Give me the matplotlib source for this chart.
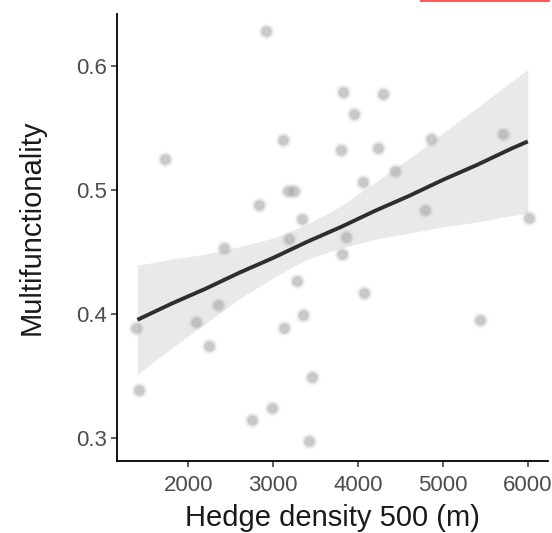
import matplotlib
matplotlib.use("Agg")
import matplotlib.pyplot as plt
from matplotlib.patches import Rectangle

plt.rcParams["font.family"] = ["Liberation Sans", "DejaVu Sans"]

# observed sites
hedge = [2913, 1725, 3821, 4292, 3954, 3113, 3804, 4241, 4862, 5703,
         3170, 3240, 2834, 4437, 4064, 3337, 4791, 6018, 3860, 2421,
         3187, 3813, 3278, 4076, 2354, 2087, 3349, 3128, 1383, 2248,
         5440, 3462, 1422, 2987, 2748, 3427]
multi = [0.628, 0.525, 0.579, 0.577, 0.561, 0.540, 0.532, 0.534, 0.541, 0.545,
         0.499, 0.499, 0.488, 0.515, 0.506, 0.476, 0.484, 0.477, 0.462, 0.453,
         0.460, 0.448, 0.426, 0.417, 0.407, 0.393, 0.399, 0.388, 0.388, 0.374,
         0.395, 0.349, 0.338, 0.324, 0.314, 0.297]

# fitted line and its confidence band
fit_x = [1400, 1800, 2200, 2600, 3000, 3400, 3800, 4200, 4600, 5000, 5400, 5800, 6000]
fit_y = [0.395, 0.408, 0.420, 0.433, 0.445, 0.458, 0.470, 0.483, 0.495, 0.508, 0.520, 0.533, 0.539]
ci_lo = [0.351, 0.372, 0.392, 0.412, 0.429, 0.444, 0.453, 0.460, 0.465, 0.470, 0.474, 0.479, 0.481]
ci_hi = [0.439, 0.444, 0.448, 0.454, 0.461, 0.472, 0.487, 0.506, 0.525, 0.546, 0.566, 0.587, 0.597]

xticks = [2000, 3000, 4000, 5000, 6000]
yticks = [0.3, 0.4, 0.5, 0.6]

fig = plt.figure(figsize=(5.52, 5.33), dpi=100)
ax = fig.add_axes([0.212, 0.135, 0.781, 0.839])

ax.fill_between(fit_x, ci_lo, ci_hi, color="#e9e9e9", lw=0, zorder=1)
# soft halo + core to mimic the blurry points
ax.scatter(hedge, multi, s=140, color="#c4c4c4", alpha=0.12, lw=0, zorder=2)
ax.scatter(hedge, multi, s=95, color="#b0b0b0", alpha=0.2, lw=0, zorder=2)
ax.scatter(hedge, multi, s=55, color="#9c9c9c", alpha=0.4, lw=0, zorder=2)
ax.plot(fit_x, fit_y, color="#2e2e2e", lw=2.8, solid_capstyle="butt", zorder=3)

ax.set_xlim(1160, 6240)
ax.set_ylim(0.281, 0.642)
ax.set_xticks(xticks)
ax.set_yticks(yticks)
ax.set_yticklabels(["0.3", "0.4", "0.5", "0.6"])

for side in ("top", "right"):
    ax.spines[side].set_visible(False)
for side in ("left", "bottom"):
    ax.spines[side].set_linewidth(1.3)
    ax.spines[side].set_color("black")
ax.tick_params(direction="out", length=4, width=1.1, color="#333333",
               labelsize=16, labelcolor="#4d4d4d")
ax.tick_params(axis="x", pad=6)

ax.set_xlabel("Hedge density 500 (m)", fontsize=21, color="#1a1a1a", labelpad=6)
ax.set_ylabel("Multifunctionality", fontsize=21, color="#1a1a1a")
ax.yaxis.set_label_coords(-0.165, 0.523)

# red strip along the top edge of the original crop
fig.patches.append(Rectangle((420 / 552, 1 - 2 / 533), 130 / 552, 2 / 533,
                             transform=fig.transFigure, color="#ff5a5a", lw=0))

fig.savefig("out.png", dpi=100)
